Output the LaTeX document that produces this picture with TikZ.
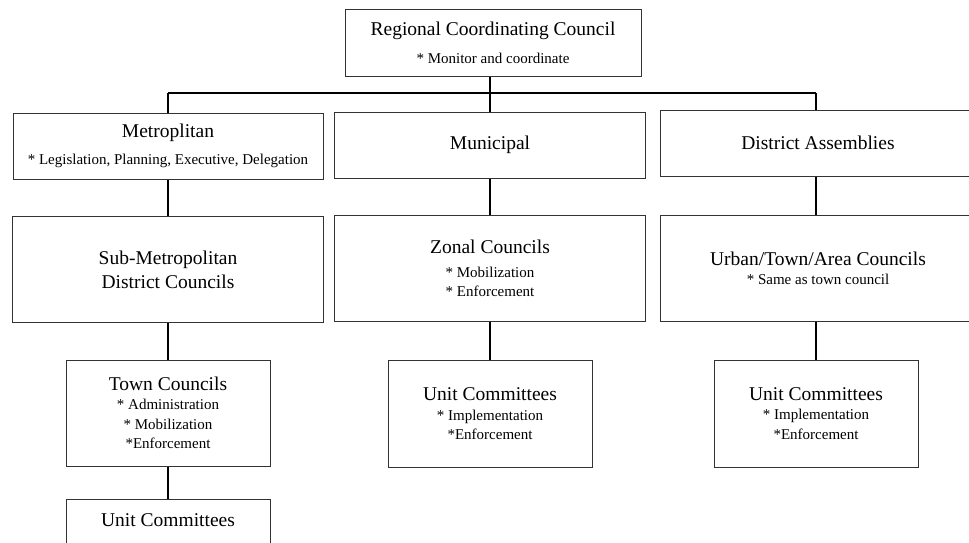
\documentclass[tikz,border=0pt]{standalone}
\usepackage{fontspec}
\setmainfont{Liberation Serif}
\newcommand\hd[1]{{\fontsize{19.5}{24}\selectfont #1}}
\begin{document}
\begin{tikzpicture}[x=1pt, y=-1pt,
		box/.style={draw=black!80, line width=1pt, align=center, inner sep=0pt, font=\fontsize{15}{19.5}\selectfont},
		link/.style={line width=1.8pt},
		busline/.style={line width=2.6pt}]
	\useasboundingbox (0,0) rectangle (969,543);
	% top
	\node[box, minimum width=296pt, minimum height=67pt] (rcc) at (493,42.7) {\hd{Regional Coordinating Council}\\[8pt]* Monitor and coordinate};
	\coordinate (busl) at (168,93);
	\coordinate (busm) at (490,93);
	\coordinate (busr) at (816,93);
	% first row
	\node[box, minimum width=310pt, minimum height=66pt] (metro) at (168,146) {\hd{Metroplitan}\\[8pt]* Legislation, Planning, Executive, Delegation};
	\node[box, minimum width=311pt, minimum height=66pt] (muni) at (490,145) {\hd{Municipal}};
	\node[box, minimum width=316pt, minimum height=66pt] (dist) at (818,143) {\hd{District Assemblies}};
	% second row
	\node[box, minimum width=311pt, minimum height=106pt] (submetro) at (168,269.5) {\hd{Sub-Metropolitan}\\[4.5pt]\hd{District Councils}};
	\node[box, minimum width=311pt, minimum height=106pt] (zonal) at (490,268.7) {\hd{Zonal Councils}\\[4pt]* Mobilization\\* Enforcement};
	\node[box, minimum width=316pt, minimum height=106pt] (urban) at (818,268.5) {\hd{Urban/Town/Area Councils}\\* Same as town council};
	% third row
	\node[box, minimum width=204pt, minimum height=106pt] (town) at (168,413) {\hd{Town Councils}\\* Administration\\* Mobilization\\*Enforcement};
	\node[box, minimum width=204pt, minimum height=107pt] (unitm) at (490,413.7) {\hd{Unit Committees}\\* Implementation\\*Enforcement};
	\node[box, minimum width=204pt, minimum height=107pt] (unitr) at (816,413.5) {\hd{Unit Committees}\\* Implementation\\*Enforcement};
	% last box, cut off at the bottom
	\node[box, minimum width=204pt, minimum height=70pt, anchor=north] (unitb) at (168,499.3) {};
	\node[anchor=base, font=\fontsize{19.5}{24}\selectfont] (unitbtxt) at (168,526.7) {Unit Committees};
	% connectors
	\draw[busline] (busl) -- (busr);
	\draw[link] (busm |- rcc.south) -- (busm);
	\draw[link] (busl) -- (metro.north);
	\draw[link] (busm) -- (muni.north);
	\draw[link] (busr) -- (busr |- dist.north);
	\draw[link] (metro.south) -- (submetro.north);
	\draw[link] (muni.south) -- (zonal.north);
	\draw[link] (busr |- dist.south) -- (busr |- urban.north);
	\draw[link] (submetro.south) -- (town.north);
	\draw[link] (zonal.south) -- (unitm.north);
	\draw[link] (busr |- urban.south) -- (unitr.north);
	\draw[link] (town.south) -- (unitb.north);
\end{tikzpicture}
\end{document}
